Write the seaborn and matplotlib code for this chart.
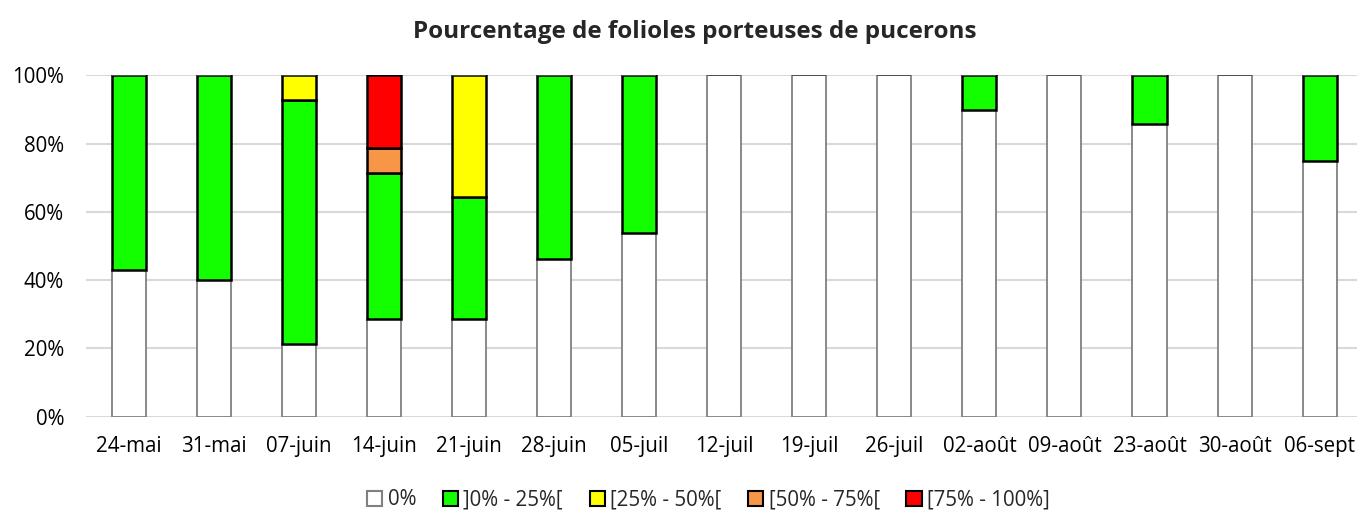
import pandas as pd
import seaborn as sns
import matplotlib.pyplot as plt
from matplotlib.patches import Patch
from matplotlib.ticker import FuncFormatter

dates = ["24-mai", "31-mai", "07-juin", "14-juin", "21-juin", "28-juin", "05-juil",
         "12-juil", "19-juil", "26-juil", "02-août", "09-août", "23-août", "30-août", "06-sept"]

# percentages per class
pct_0 = [42.9, 40.0, 21.4, 28.6, 28.6, 46.2, 53.8, 100, 100, 100, 90.0, 100, 85.7, 100, 75.0]
pct_0_25 = [57.1, 60.0, 71.5, 42.8, 35.7, 53.8, 46.2, 0, 0, 0, 10.0, 0, 14.3, 0, 25.0]
pct_25_50 = [0, 0, 7.1, 0, 35.7, 0, 0, 0, 0, 0, 0, 0, 0, 0, 0]
pct_50_75 = [0, 0, 0, 7.2, 0, 0, 0, 0, 0, 0, 0, 0, 0, 0, 0]
pct_75_100 = [0, 0, 0, 21.4, 0, 0, 0, 0, 0, 0, 0, 0, 0, 0, 0]

classes = ["0%", "]0% - 25%[", "[25% - 50%[", "[50% - 75%[", "[75% - 100%]"]
series = [pct_0, pct_0_25, pct_25_50, pct_50_75, pct_75_100]
colors = ["#FFFFFF", "#13FF00", "#FFFF00", "#F79646", "#FF0000"]
edges = ["#808080", "#000000", "#000000", "#000000", "#000000"]

sns.set_style("white")
plt.rcParams["font.family"] = ["Open Sans", "DejaVu Sans"]

fig = plt.figure(figsize=(13.57, 5.11), dpi=100)
ax = fig.add_axes([0.0637, 0.1845, 0.9363, 0.668])

bottom = [0.0] * len(dates)
for name, vals, col, ec in zip(classes, series, colors, edges):
    df = pd.DataFrame({"date": dates, "value": vals})
    sns.barplot(data=df, x="date", y="value", order=dates, bottom=bottom,
                color=col, edgecolor=ec, linewidth=1.8 if ec == "#000000" else 1.3,
                width=0.4, saturation=1, ax=ax, zorder=3)
    bottom = [b + v for b, v in zip(bottom, vals)]

# empty segments only leave a thin dark line on top of the bar
for p in ax.patches:
    if p.get_height() == 0:
        p.set_edgecolor("#505050")
        p.set_linewidth(1.1)

ax.set_xlim(-0.5, 14.44)
ax.set_ylim(0, 100)
ax.set_yticks([0, 20, 40, 60, 80, 100])
ax.yaxis.set_major_formatter(FuncFormatter(lambda v, p: f"{v:.0f}%"))
ax.grid(True, axis="y", color="#D9D9D9", linewidth=1.5, zorder=0)
ax.set_axisbelow(True)
for s in ax.spines.values():
    s.set_visible(False)
ax.tick_params(axis="both", length=0, labelsize=14.8, colors="#000000")
ax.tick_params(axis="x", pad=14)
ax.tick_params(axis="y", pad=16)
ax.set_xlabel("")
ax.set_ylabel("")

fig.suptitle("Pourcentage de folioles porteuses de pucerons", fontsize=17.5,
             fontweight="bold", y=0.96, x=0.512)

handles = [Patch(facecolor=c, edgecolor=e, linewidth=1.5) for c, e in zip(colors, edges)]
fig.legend(handles, classes, loc="lower center", bbox_to_anchor=(0.522, -0.035), ncol=5,
           frameon=False, fontsize=14.8, handlelength=0.75, handleheight=0.75,
           handletextpad=0.25, columnspacing=1.3)

fig.savefig("out.png", dpi=100)
